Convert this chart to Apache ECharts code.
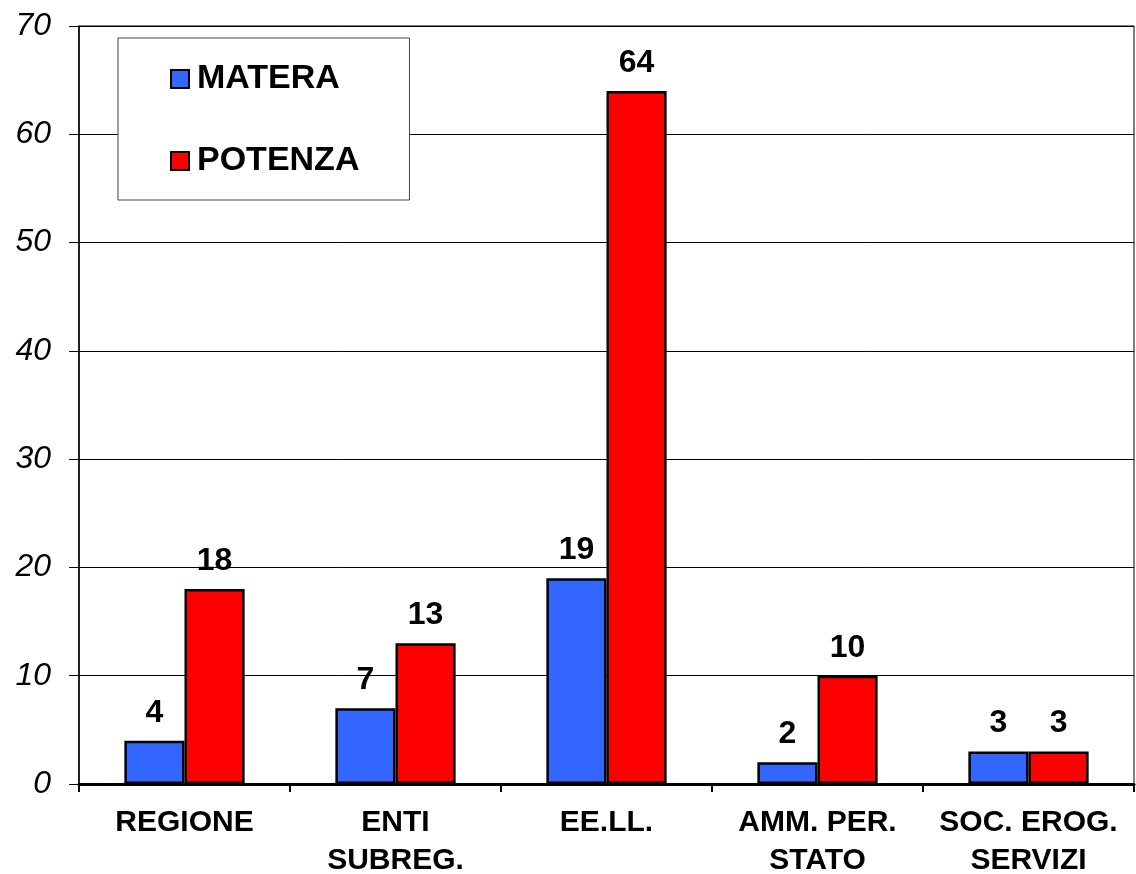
<!DOCTYPE html>
<html>
<head>
<meta charset="utf-8">
<style>
  html, body { margin: 0; padding: 0; background: #fff; }
  #chart { width: 1136px; height: 874px; }
</style>
<script src="https://cdn.jsdelivr.net/npm/echarts@6/dist/echarts.min.js"></script>
</head>
<body>
<div id="chart"></div>
<script>
// Categories of bodies and counts per province
const categories = ['REGIONE', 'ENTI\nSUBREG.', 'EE.LL.', 'AMM. PER.\nSTATO', 'SOC. EROG.\nSERVIZI'];
const materaValues = [4, 7, 19, 2, 3];
const potenzaValues = [18, 13, 64, 10, 3];
const yTicks = { min: 0, max: 70, interval: 10 };

const FONT = 'Liberation Sans, Arial, sans-serif';

const chart = echarts.init(document.getElementById('chart'), null, { renderer: 'canvas' });

const valueLabel = {
  show: true,
  position: 'top',
  distance: 12,
  color: '#000',
  fontFamily: FONT,
  fontWeight: 'bold',
  fontSize: 32
};

chart.setOption({
  animation: false,
  backgroundColor: '#fff',
  grid: {
    left: 79, right: 2, top: 26, bottom: 90,
    outerBoundsMode: 'none',
    containLabel: false,
    show: true, borderColor: '#000', borderWidth: 1
  },
  legend: {
    orient: 'vertical',
    left: 118, top: 38,
    padding: [24, 50, 22, 52],
    itemGap: 48,
    itemWidth: 18, itemHeight: 18,
    icon: 'rect',
    borderColor: '#444', borderWidth: 1,
    backgroundColor: '#fff',
    itemStyle: { borderColor: '#000', borderWidth: 2 },
    textStyle: {
      color: '#000', fontFamily: FONT, fontWeight: 'bold',
      fontSize: 34, lineHeight: 34, padding: [0, 0, 0, 3]
    },
    data: ['MATERA', 'POTENZA']
  },
  xAxis: {
    type: 'category',
    data: categories,
    axisLine: { lineStyle: { color: '#000', width: 3 } },
    axisTick: { show: true, length: 8, lineStyle: { color: '#000', width: 2 } },
    axisLabel: {
      color: '#000', fontFamily: FONT, fontWeight: 'bold',
      fontSize: 30, lineHeight: 38, margin: 20, interval: 0
    }
  },
  yAxis: {
    type: 'value',
    min: yTicks.min, max: yTicks.max, interval: yTicks.interval,
    axisLine: { show: true, lineStyle: { color: '#000', width: 1.5 } },
    axisTick: { show: true, length: 10, lineStyle: { color: '#000', width: 1 } },
    axisLabel: {
      color: '#000', fontFamily: FONT, fontStyle: 'italic',
      fontSize: 32, margin: 28
    },
    splitLine: { show: true, lineStyle: { color: '#000', width: 1 } }
  },
  series: [
    {
      name: 'MATERA',
      type: 'bar',
      data: materaValues,
      barGap: '0%',
      barCategoryGap: '43%',
      itemStyle: { color: '#3366FF', borderColor: '#000', borderWidth: 2.5 },
      label: valueLabel
    },
    {
      name: 'POTENZA',
      type: 'bar',
      data: potenzaValues,
      barGap: '0%',
      barCategoryGap: '43%',
      itemStyle: { color: '#FF0000', borderColor: '#000', borderWidth: 2.5 },
      label: valueLabel
    }
  ]
});
</script>
</body>
</html>
